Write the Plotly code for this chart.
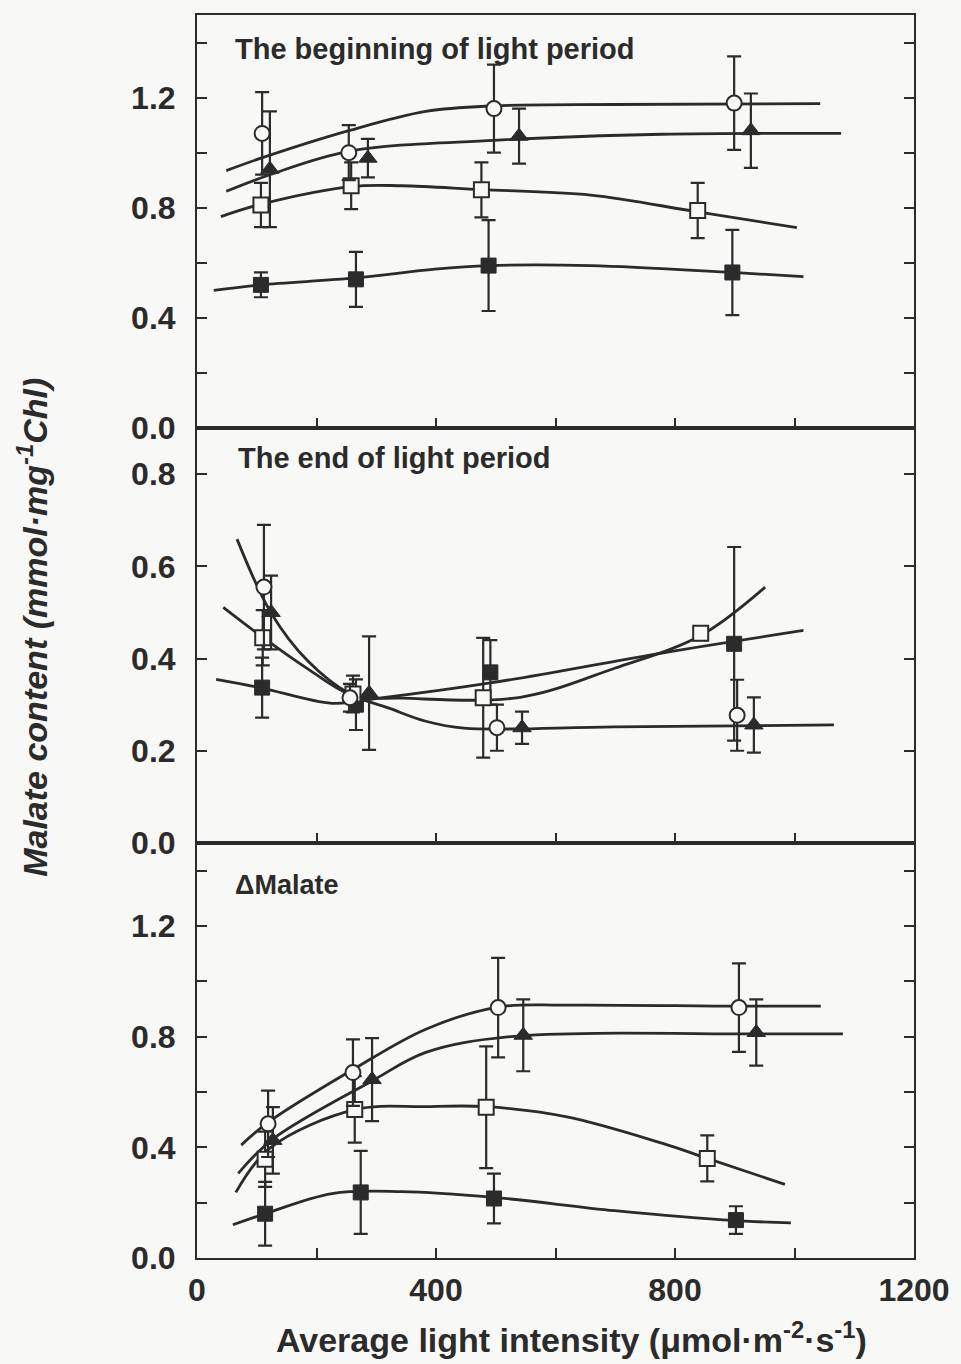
import plotly.graph_objects as go
from plotly.subplots import make_subplots

INK = "#2b2b2b"
BG = "#f8f8f6"
FONT = "Liberation Sans, Arial, Helvetica, sans-serif"

# ---- measured points (x: light intensity, y: malate, e: error) ----
# The beginning of light period
beg_circ_x = [109, 254, 497, 899]
beg_circ_y = [1.07, 1.00, 1.16, 1.18]
beg_circ_e = [0.15, 0.10, 0.16, 0.17]
beg_tri_x = [122, 286, 539, 927]
beg_tri_y = [0.94, 0.98, 1.06, 1.08]
beg_tri_e = [0.21, 0.07, 0.10, 0.135]
beg_osq_x = [107, 258, 476, 838]
beg_osq_y = [0.81, 0.88, 0.865, 0.79]
beg_osq_e = [0.08, 0.085, 0.10, 0.10]
beg_fsq_x = [107, 266, 488, 896]
beg_fsq_y = [0.52, 0.54, 0.59, 0.565]
beg_fsq_e = [0.045, 0.10, 0.165, 0.155]

# The end of light period
end_circ_x = [112, 256, 502, 904]
end_circ_y = [0.555, 0.315, 0.25, 0.277]
end_circ_e = [0.135, 0.03, 0.05, 0.077]
end_tri_x = [124, 288, 544, 932]
end_tri_y = [0.50, 0.325, 0.25, 0.256]
end_tri_e = [0.08, 0.123, 0.035, 0.06]
end_osq_x = [110, 261, 479, 843]
end_osq_y = [0.445, 0.323, 0.315, 0.455]
end_osq_e = [0.06, 0.04, 0.13, 0.015]
end_fsq_x = [109, 266, 491, 899]
end_fsq_y = [0.337, 0.30, 0.37, 0.432]
end_fsq_e = [0.065, 0.055, 0.07, 0.21]

# Delta malate
dm_circ_x = [119, 261, 504, 907]
dm_circ_y = [0.485, 0.67, 0.905, 0.905]
dm_circ_e = [0.12, 0.12, 0.18, 0.16]
dm_tri_x = [127, 293, 546, 936]
dm_tri_y = [0.425, 0.645, 0.805, 0.815]
dm_tri_e = [0.12, 0.15, 0.13, 0.12]
dm_osq_x = [114, 264, 484, 854]
dm_osq_y = [0.357, 0.537, 0.545, 0.36]
dm_osq_e = [0.10, 0.12, 0.22, 0.083]
dm_fsq_x = [114, 274, 497, 902]
dm_fsq_y = [0.16, 0.237, 0.215, 0.137]
dm_fsq_e = [0.115, 0.15, 0.09, 0.05]

# ---- fitted curves (knots of the smooth trend lines) ----
beg_circ_fit_x = [49, 107, 254, 383, 497, 700, 1043]
beg_circ_fit_y = [0.935, 0.98, 1.08, 1.15, 1.17, 1.175, 1.178]
beg_tri_fit_x = [49, 122, 254, 497, 778, 1078]
beg_tri_fit_y = [0.86, 0.92, 1.005, 1.045, 1.067, 1.07]
beg_osq_fit_x = [40, 107, 258, 343, 476, 659, 838, 1004]
beg_osq_fit_y = [0.768, 0.813, 0.877, 0.88, 0.866, 0.846, 0.785, 0.728]
beg_fsq_fit_x = [28, 107, 266, 398, 488, 659, 896, 1015]
beg_fsq_fit_y = [0.50, 0.52, 0.545, 0.577, 0.59, 0.59, 0.565, 0.55]

end_circ_fit_x = [67, 124, 186, 256, 320, 383, 447, 699, 1066]
end_circ_fit_y = [0.659, 0.499, 0.394, 0.323, 0.293, 0.264, 0.249, 0.252, 0.256]
end_osq_fit_x = [44, 110, 186, 261, 343, 541, 699, 843, 951]
end_osq_fit_y = [0.511, 0.446, 0.377, 0.32, 0.314, 0.316, 0.379, 0.45, 0.555]
end_fsq_fit_x = [32, 109, 226, 305, 491, 778, 1015]
end_fsq_fit_y = [0.355, 0.336, 0.303, 0.314, 0.347, 0.412, 0.461]

dm_circ_fit_x = [74, 119, 261, 383, 504, 619, 907, 1044]
dm_circ_fit_y = [0.408, 0.49, 0.681, 0.827, 0.907, 0.914, 0.91, 0.91]
dm_tri_fit_x = [69, 127, 293, 383, 525, 936, 1081]
dm_tri_fit_y = [0.306, 0.43, 0.64, 0.743, 0.80, 0.81, 0.81]
dm_osq_fit_x = [65, 122, 264, 383, 484, 619, 778, 854, 984]
dm_osq_fit_y = [0.237, 0.397, 0.536, 0.547, 0.547, 0.51, 0.415, 0.36, 0.266]
dm_fsq_fit_x = [60, 114, 226, 343, 497, 699, 902, 994]
dm_fsq_fit_y = [0.12, 0.16, 0.233, 0.24, 0.219, 0.171, 0.135, 0.127]

panel_titles = ["The beginning of light period", "The end of light period", "\u0394Malate"]

fig = make_subplots(rows=3, cols=1, shared_xaxes=True, vertical_spacing=0)

MARKERS = {
    "circ": dict(symbol="circle", size=15, color=BG, line=dict(color=INK, width=2)),
    "tri": dict(symbol="triangle-up", size=16, color=INK, line=dict(color=INK, width=1)),
    "osq": dict(symbol="square", size=15, color=BG, line=dict(color=INK, width=2)),
    "fsq": dict(symbol="square", size=15, color=INK, line=dict(color=INK, width=1)),
}


def add_fit(x, y, row):
    fig.add_trace(go.Scatter(x=x, y=y, mode="lines",
                             line=dict(color=INK, width=2.8, shape="spline", smoothing=1.0),
                             hoverinfo="skip"), row=row, col=1)


def add_points(x, y, e, kind, row):
    fig.add_trace(go.Scatter(x=x, y=y, mode="markers", marker=MARKERS[kind],
                             error_y=dict(type="data", array=e, visible=True,
                                          color=INK, thickness=2.2, width=7)),
                  row=row, col=1)


# panel 1
for fx, fy in [(beg_circ_fit_x, beg_circ_fit_y), (beg_tri_fit_x, beg_tri_fit_y),
               (beg_osq_fit_x, beg_osq_fit_y), (beg_fsq_fit_x, beg_fsq_fit_y)]:
    add_fit(fx, fy, 1)
add_points(beg_fsq_x, beg_fsq_y, beg_fsq_e, "fsq", 1)
add_points(beg_osq_x, beg_osq_y, beg_osq_e, "osq", 1)
add_points(beg_tri_x, beg_tri_y, beg_tri_e, "tri", 1)
add_points(beg_circ_x, beg_circ_y, beg_circ_e, "circ", 1)

# panel 2
for fx, fy in [(end_circ_fit_x, end_circ_fit_y), (end_osq_fit_x, end_osq_fit_y),
               (end_fsq_fit_x, end_fsq_fit_y)]:
    add_fit(fx, fy, 2)
add_points(end_fsq_x, end_fsq_y, end_fsq_e, "fsq", 2)
add_points(end_osq_x, end_osq_y, end_osq_e, "osq", 2)
add_points(end_tri_x, end_tri_y, end_tri_e, "tri", 2)
add_points(end_circ_x, end_circ_y, end_circ_e, "circ", 2)

# panel 3
for fx, fy in [(dm_circ_fit_x, dm_circ_fit_y), (dm_tri_fit_x, dm_tri_fit_y),
               (dm_osq_fit_x, dm_osq_fit_y), (dm_fsq_fit_x, dm_fsq_fit_y)]:
    add_fit(fx, fy, 3)
add_points(dm_fsq_x, dm_fsq_y, dm_fsq_e, "fsq", 3)
add_points(dm_osq_x, dm_osq_y, dm_osq_e, "osq", 3)
add_points(dm_tri_x, dm_tri_y, dm_tri_e, "tri", 3)
add_points(dm_circ_x, dm_circ_y, dm_circ_e, "circ", 3)

tick_font = dict(family=FONT, size=32, color=INK, weight="bold")
domains = [[0.6677, 1.0], [0.3339, 0.6677], [0.0, 0.3339]]
y_ranges = [[0, 1.5], [0, 0.9], [0, 1.5]]
y_major = [0.4, 0.2, 0.4]
y_minor = [0.2, 0.2, 0.2]
tick_style = dict(ticks="inside", ticklen=10, tickwidth=2, tickcolor=INK)

for i in range(3):
    r = i + 1
    fig.update_yaxes(row=r, col=1, domain=domains[i], range=y_ranges[i],
                     tick0=0, dtick=y_major[i], tickformat=".1f",
                     minor=dict(tick0=0, dtick=y_minor[i], **tick_style),
                     showline=True, linecolor=INK, linewidth=2, mirror="ticks",
                     showgrid=False, zeroline=False, tickfont=tick_font,
                     ticklabelstandoff=13, **tick_style)
    fig.update_xaxes(row=r, col=1, range=[0, 1200], tick0=0, dtick=400,
                     minor=dict(tick0=0, dtick=200, **tick_style),
                     showticklabels=(r == 3),
                     showline=True, linecolor=INK, linewidth=2, mirror=True,
                     showgrid=False, zeroline=False, tickfont=tick_font,
                     ticklabelstandoff=3, **tick_style)

annotations = [
    dict(text=panel_titles[0], x=0.050, y=0.9727, size=29),
    dict(text=panel_titles[1], x=0.055, y=0.6436, size=29),
    dict(text=panel_titles[2], x=0.050, y=0.3001, size=27),
]
for a in annotations:
    size = a.pop("size")
    a.update(xref="paper", yref="paper", showarrow=False, xanchor="left", yanchor="middle",
             font=dict(family=FONT, size=size, color=INK, weight="bold"))
    fig.add_annotation(**a)

fig.add_annotation(text="Average light intensity (\u03bcmol\u00b7m<sup>-2</sup>\u00b7s<sup>-1</sup>)",
                   xref="paper", yref="paper", x=0.523, y=-0.064, xanchor="center", yanchor="middle",
                   showarrow=False, font=dict(family=FONT, size=34, color=INK, weight="bold"))
fig.add_annotation(text="<i>Malate content (mmol\u00b7mg<sup>-1</sup>Chl)</i>",
                   xref="paper", yref="paper", x=-0.2287, y=0.507, xanchor="center", yanchor="middle",
                   textangle=-90, showarrow=False,
                   font=dict(family=FONT, size=34, color=INK, weight="bold"))

fig.update_layout(width=961, height=1364, showlegend=False,
                  margin=dict(l=197, r=47, t=15, b=106),
                  paper_bgcolor=BG, plot_bgcolor=BG,
                  font=dict(family=FONT, color=INK))

fig.write_html("out.html")
